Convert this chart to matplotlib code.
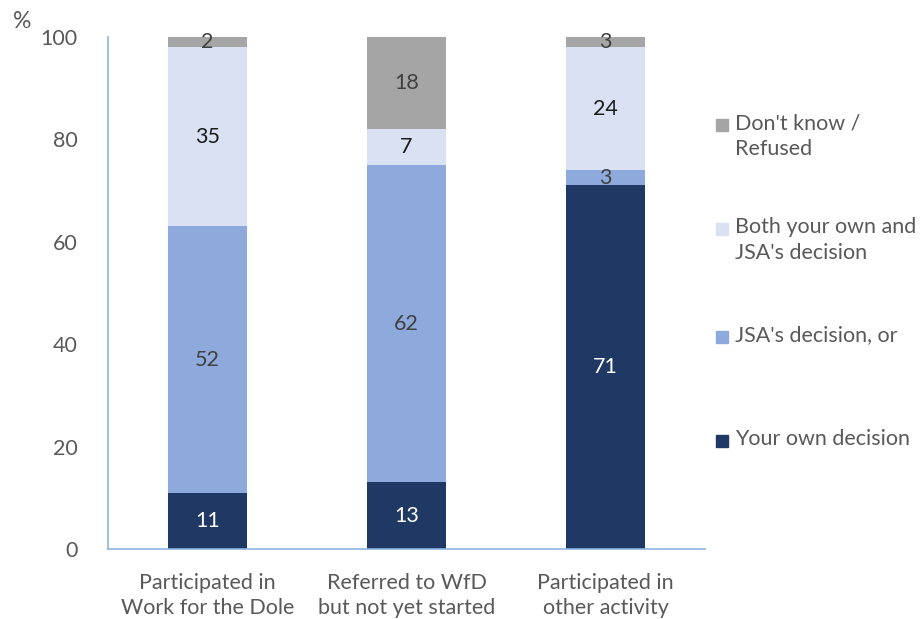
import numpy as np
import matplotlib.pyplot as plt
from matplotlib.patches import Rectangle

plt.rcParams['font.family'] = ['Lato', 'DejaVu Sans']

categories = ["Participated in\nWork for the Dole",
              "Referred to WfD\nbut not yet started",
              "Participated in\nother activity"]
series_names = ["Your own decision", "JSA's decision, or",
                "Both your own and\nJSA's decision", "Don't know /\nRefused"]
own = [11, 13, 71]
jsa = [52, 62, 3]
both = [35, 7, 24]
dont_know = [2, 18, 3]
yticks = [0, 20, 40, 60, 80, 100]

colors = ["#1F3864", "#8EA9DB", "#D9E1F2", "#A5A5A5"]
label_colors = ["white", "#404040", "#1a1a1a", "#404040"]
grey = "#595959"
spine_col = "#8DB4E2"
fs = 15.5

fig = plt.figure(figsize=(9.23, 6.19), dpi=100)
ax = fig.add_axes([108 / 923, 1 - 549 / 619, 597 / 923, 512 / 619])

x = np.arange(len(categories))
bottom = np.zeros(len(categories))
for vals, col, lcol in zip([own, jsa, both, dont_know], colors, label_colors):
    vals = np.array(vals, dtype=float)
    ax.bar(x, vals, width=0.4, bottom=bottom, color=col)
    for xi, b, v in zip(x, bottom, vals):
        # the top segment of the last bar runs past 100, so centre it in what shows
        yc = (b + 100) / 2 if b + v > 100 else b + v / 2
        ax.text(xi, yc, f"{int(v)}", ha='center', va='center',
                fontsize=fs, color=lcol)
    bottom += vals

ax.set_xlim(-0.5, 2.5)
ax.set_ylim(0, 100)
ax.set_yticks(yticks)
ax.set_xticks(x)
ax.set_xticklabels(categories, fontsize=fs, color=grey, linespacing=1.35)
ax.tick_params(axis='y', length=0, labelsize=fs, labelcolor=grey, pad=22)
ax.tick_params(axis='x', length=0, pad=17)
for s in ['top', 'right']:
    ax.spines[s].set_visible(False)
for s in ['left', 'bottom']:
    ax.spines[s].set_color(spine_col)
    ax.spines[s].set_linewidth(1.2)

fig.text(22 / 923, 1 - 22 / 619, "%", fontsize=fs + 1, color=grey,
         ha='center', va='center')

# legend, drawn by hand so the entries sit where Excel put them
legend_y = [441, 337, 229, 125]
for name, col, ly in zip(series_names, colors, legend_y):
    fig.patches.append(Rectangle((716 / 923, 1 - (ly + 6) / 619), 12 / 923, 12 / 619,
                                 transform=fig.transFigure, color=col))
    fig.text(735 / 923, 1 - (ly - 12) / 619, name, fontsize=fs, color=grey,
             ha='left', va='top', linespacing=1.4)

fig.savefig("out.png", dpi=100)
